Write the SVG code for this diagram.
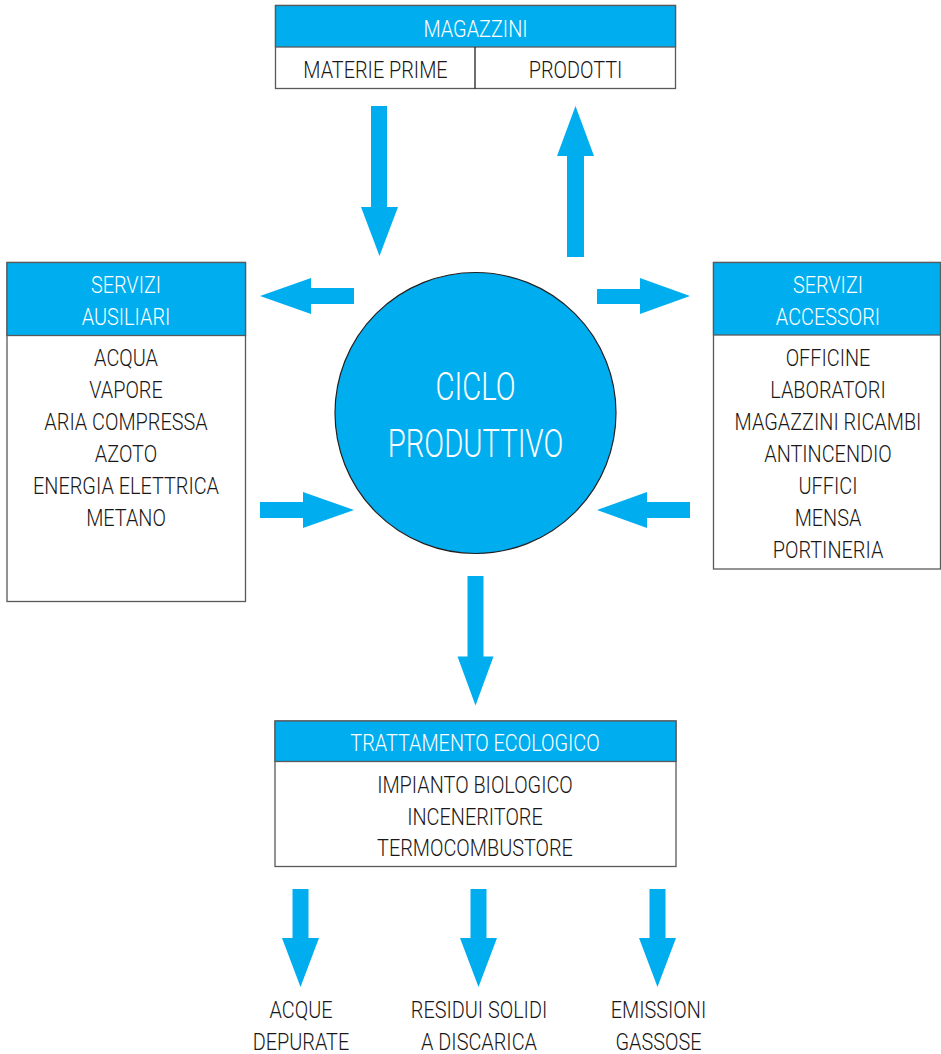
<svg xmlns="http://www.w3.org/2000/svg" width="941" height="1054" viewBox="0 0 941 1054">
<style>
.box{fill:#fff;stroke:#58595b;stroke-width:1.3}
.hdr{fill:#00aeef;stroke:#58595b;stroke-width:1.3}
.arrow{fill:#00aeef}
text{font-family:Roboto,"Liberation Sans",Arial,sans-serif;font-weight:300;font-size:23.5px;text-anchor:middle;transform-box:fill-box;transform-origin:center;transform:scaleX(0.845)}
.w{fill:#fff}
.d{fill:#1a1718}
.big{font-size:39px;transform:scaleX(0.75)}
</style>
<rect width="941" height="1054" fill="#fff"/>
<g id="magazzini">
<rect class="box" x="275.5" y="5.5" width="400" height="83"/>
<rect class="hdr" x="275.5" y="5.5" width="400" height="41.5"/>
<line x1="475" y1="47" x2="475" y2="88.5" stroke="#231f20" stroke-width="1.3"/>
<text class="w" x="475.5" y="37">MAGAZZINI</text>
<text class="d" x="375.5" y="78">MATERIE PRIME</text>
<text class="d" x="575.5" y="78">PRODOTTI</text>
</g>
<g id="servizi-ausiliari">
<rect class="box" x="7" y="262.5" width="238.5" height="339"/>
<rect class="hdr" x="7" y="262.5" width="238.5" height="73"/>
<text class="w" x="126" y="293">SERVIZI</text>
<text class="w" x="126" y="325">AUSILIARI</text>
<text class="d" x="126" y="366">ACQUA</text>
<text class="d" x="126" y="398">VAPORE</text>
<text class="d" x="126" y="430">ARIA COMPRESSA</text>
<text class="d" x="126" y="462">AZOTO</text>
<text class="d" x="126" y="494">ENERGIA ELETTRICA</text>
<text class="d" x="126" y="526">METANO</text>
</g>
<g id="servizi-accessori">
<rect class="box" x="713.5" y="262.5" width="227" height="306.5"/>
<rect class="hdr" x="713.5" y="262.5" width="227" height="72.5"/>
<text class="w" x="828" y="293">SERVIZI</text>
<text class="w" x="828" y="325">ACCESSORI</text>
<text class="d" x="828" y="366">OFFICINE</text>
<text class="d" x="828" y="398">LABORATORI</text>
<text class="d" x="828" y="430">MAGAZZINI RICAMBI</text>
<text class="d" x="828" y="462">ANTINCENDIO</text>
<text class="d" x="828" y="494">UFFICI</text>
<text class="d" x="828" y="526">MENSA</text>
<text class="d" x="828" y="558">PORTINERIA</text>
</g>
<g id="ciclo-produttivo">
<circle cx="475.5" cy="413" r="140.5" fill="#00aeef" stroke="#231f20" stroke-width="1.2"/>
<text class="w big" x="475.5" y="400">CICLO</text>
<text class="w big" x="475.5" y="457">PRODUTTIVO</text>
</g>
<g id="trattamento-ecologico">
<rect class="box" x="275" y="721" width="401" height="145.5"/>
<rect class="hdr" x="275" y="721" width="401" height="40.5"/>
<text class="w" x="475" y="751">TRATTAMENTO ECOLOGICO</text>
<text class="d" x="475" y="793">IMPIANTO BIOLOGICO</text>
<text class="d" x="475" y="825">INCENERITORE</text>
<text class="d" x="475" y="856">TERMOCOMBUSTORE</text>
</g>
<g id="acque-depurate">
<text class="d" x="301" y="1018">ACQUE</text>
<text class="d" x="301" y="1050">DEPURATE</text>
</g>
<g id="residui-solidi">
<text class="d" x="479" y="1018">RESIDUI SOLIDI</text>
<text class="d" x="479" y="1050">A DISCARICA</text>
</g>
<g id="emissioni-gassose">
<text class="d" x="658.5" y="1018">EMISSIONI</text>
<text class="d" x="658.5" y="1050">GASSOSE</text>
</g>
<g id="connectors">
<polygon class="arrow" points="371,106 387,106 387,207 398,207 379.5,256 361,207 371,207"/>
<polygon class="arrow" points="567,257 584,257 584,156 594,156 575.5,106 557,156 567,156"/>
<polygon class="arrow" points="354,288 354,304 311,304 311,314 260,296 311,278 311,288"/>
<polygon class="arrow" points="260,502 303,502 303,492 354,510 303,528 303,518 260,518"/>
<polygon class="arrow" points="597,289 640,289 640,278 690,296 640,314 640,304 597,304"/>
<polygon class="arrow" points="690,502 690,518 647,518 647,528 597,510 647,492 647,502"/>
<polygon class="arrow" points="467.5,576 483.5,576 483.5,656.5 493.5,656.5 475.5,705.5 457.5,656.5 467.5,656.5"/>
<polygon class="arrow" points="292.5,889 308.5,889 308.5,938 319,938 300.5,987 282,938 292.5,938"/>
<polygon class="arrow" points="470.5,889 486.5,889 486.5,938 497,938 478.5,987 460,938 470.5,938"/>
<polygon class="arrow" points="649.5,889 665.5,889 665.5,938 676,938 657.5,987 639,938 649.5,938"/>
</g>
</svg>
